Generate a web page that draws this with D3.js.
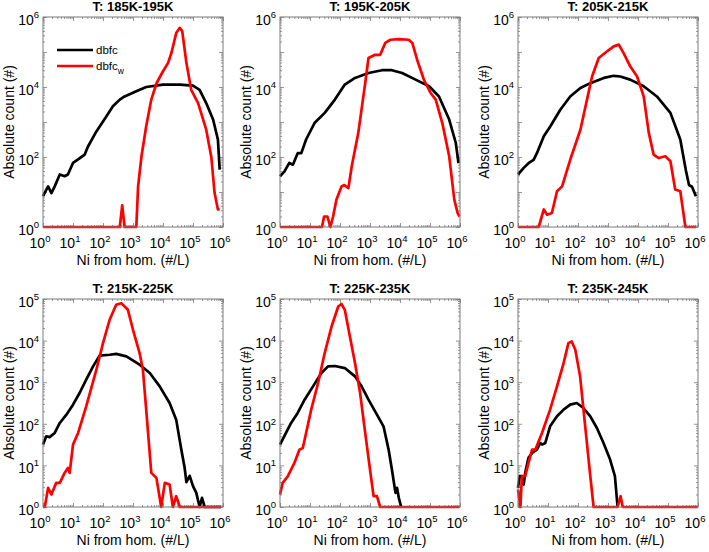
<!DOCTYPE html>
<html>
<head>
<meta charset="utf-8">
<script src="https://cdn.jsdelivr.net/npm/d3@7"></script>
<style>
  html, body { margin: 0; padding: 0; background: #fff; }
  svg { display: block; font-family: "Liberation Sans", Arial, Helvetica, sans-serif; }
</style>
</head>
<body>
<svg id="chart" width="709" height="552"></svg>
<script>
// ---- Data (values stored as log10 exponents: Ni = 10^x, count = 10^y) ----
const titles = ["T: 185K-195K", "T: 195K-205K", "T: 205K-215K",
                "T: 215K-225K", "T: 225K-235K", "T: 235K-245K"];
const yMaxExp = [6, 6, 6, 5, 5, 5];
const seriesNames = ["dbfc", "dbfc_w"];

const p1BlackX = [0,0.17,0.28,0.39,0.56,0.72,0.83,1.0,1.17,1.39,1.5,1.78,2.11,2.33,2.56,2.72,3.11,3.44,4.0,4.56,5.0,5.22,5.44,5.67,5.83,5.89];
const p1BlackY = [0.88,1.16,0.97,1.16,1.5,1.45,1.5,1.83,1.93,2.07,2.3,2.73,3.16,3.45,3.64,3.73,3.88,4.0,4.07,4.07,4.04,3.92,3.54,3.07,2.5,1.64];
const p1RedX = [0,2.56,2.64,2.72,3.11,3.17,3.28,3.44,3.61,3.78,4.0,4.17,4.28,4.44,4.56,4.64,4.78,4.94,5.17,5.44,5.61,5.72,5.83,5.89];
const p1RedY = [0,0,0.62,0,0,1.16,2.0,2.88,3.64,4.1,4.45,4.69,4.97,5.54,5.69,5.6,4.69,3.92,3.54,2.78,2.0,0.97,0.5,0.5];

const p2BlackX = [0,0.15,0.31,0.43,0.59,0.71,0.87,1.15,1.49,1.83,2.16,2.5,2.95,3.4,3.73,4.07,4.52,4.97,5.3,5.64,5.86,5.95];
const p2BlackY = [1.45,1.59,1.83,1.78,2.11,2.11,2.5,2.97,3.26,3.64,4.07,4.26,4.4,4.48,4.48,4.4,4.21,4.02,3.73,3.07,2.4,1.83];
const p2RedX = [0,1.4,1.47,1.58,1.68,1.77,1.88,2.05,2.14,2.28,2.39,2.61,2.84,2.95,3.17,3.34,3.51,3.68,3.96,4.29,4.41,4.57,4.8,5.02,5.19,5.41,5.64,5.81,5.92,5.98];
const p2RedY = [0,0,0.3,0.3,0,0.3,0.78,1.16,1.2,1.11,1.73,2.69,4.11,4.83,4.92,4.92,5.26,5.35,5.37,5.35,5.26,4.78,4.2,3.83,3.64,2.97,2.02,0.78,0.4,0.3];

const p3BlackX = [0,0.19,0.36,0.52,0.63,0.86,1.08,1.41,1.74,2.08,2.41,2.86,3.19,3.41,3.74,4.19,4.63,5.08,5.41,5.6,5.7,5.8,5.93];
const p3BlackY = [1.5,1.69,1.83,1.92,2.11,2.59,2.88,3.35,3.73,3.97,4.11,4.26,4.32,4.3,4.21,4.02,3.73,3.26,2.5,1.6,1.2,1.15,0.88];
const p3RedX = [0,0.69,0.86,0.97,1.13,1.3,1.47,1.74,2.08,2.3,2.47,2.69,2.97,3.19,3.36,3.52,3.74,3.97,4.19,4.36,4.52,4.69,4.91,5.08,5.24,5.41,5.58,5.93];
const p3RedY = [0,0,0.5,0.35,0.4,1.02,1.16,1.92,2.78,3.64,4.3,4.83,5.02,5.16,5.21,4.97,4.59,4.3,3.73,2.69,2.07,1.97,2.02,1.88,1.07,1.02,0,0];

const p4BlackX = [0,0.11,0.22,0.39,0.56,0.78,1.0,1.22,1.44,1.67,1.89,2.22,2.44,2.78,3.22,3.56,3.89,4.22,4.44,4.61,4.72,4.78,4.89,5.0,5.11,5.22,5.3,5.39,5.93];
const p4BlackY = [1.5,1.7,1.68,1.78,2.02,2.22,2.46,2.74,3.06,3.38,3.64,3.66,3.68,3.62,3.42,3.22,2.9,2.5,2.1,1.38,0.95,0.6,0.75,0.5,0.34,0,0.22,0,0];
const p4RedX = [0,0.06,0.17,0.28,0.44,0.56,0.72,0.83,0.89,1.0,1.17,1.44,1.78,2.0,2.22,2.44,2.61,2.83,3.0,3.22,3.33,3.44,3.61,3.78,3.94,4.06,4.22,4.33,4.44,4.56,5.93];
const p4RedY = [0,0,0.46,0.3,0.58,0.58,0.82,0.94,0.82,1.5,1.78,2.42,3.3,3.94,4.5,4.86,4.9,4.74,4.26,3.7,3.3,2.34,0.82,0.7,0,0.58,0.54,0,0.26,0,0];

const p5BlackX = [0,0.2,0.37,0.59,0.82,1.1,1.38,1.6,1.83,2.16,2.5,2.72,2.95,3.17,3.45,3.62,3.73,3.85,3.9,3.96,4.04];
const p5BlackY = [1.5,1.78,2.02,2.26,2.58,2.9,3.22,3.38,3.39,3.34,3.14,2.9,2.58,2.3,1.94,1.38,0.9,0.34,0.46,0.22,0];
const p5RedX = [0,0.09,0.26,0.37,0.48,0.65,0.76,0.87,1.04,1.27,1.49,1.72,1.94,2.05,2.16,2.33,2.5,2.67,2.84,3.0,3.12,3.23,3.34,5.98];
const p5RedY = [0.3,0.58,0.74,0.9,1.06,1.38,1.42,1.78,2.34,2.98,3.7,4.34,4.82,4.88,4.74,4.1,3.46,2.74,1.78,0.9,0.26,0.26,0,0];

const p6BlackX = [0,0.06,0.13,0.19,0.24,0.35,0.47,0.63,0.74,0.8,0.91,1.07,1.3,1.52,1.74,1.96,2.18,2.41,2.63,2.85,3.07,3.23,3.32];
const p6BlackY = [0.46,0.74,0.74,0.54,0.82,1.18,1.3,1.38,1.54,1.5,1.54,1.94,2.18,2.34,2.46,2.5,2.38,2.18,1.9,1.54,1.14,0.74,0];
const p6RedX = [0,0.08,0.13,0.24,0.35,0.47,0.58,0.8,1.07,1.3,1.52,1.68,1.79,1.91,2.07,2.24,2.41,2.52,3.32,3.42,3.49,5.98];
const p6RedY = [0.42,0,0.74,0.74,1.06,1.38,1.38,1.78,2.34,2.9,3.46,3.94,3.98,3.78,3.14,1.94,0.74,0,0,0.26,0,0];

const xTickExp = [0,1,2,3,4,5,6];
const yLabelExpTop = [0,2,4,6];
const yLabelExpBottom = [0,1,2,3,4,5];

// ---- Layout ----
const colX = [43, 280, 518];
const rowY = [17, 299];
const rowH = [210, 208];
const panelW = 180;
const frameColor = "#7a7a7a";
const black = "#000000", red = "#ff0000";

const svg = d3.select("#chart");

const toPts = (xs, ys) => xs.map((e, i) => ({x: Math.pow(10, e), y: Math.pow(10, ys[i])}));
const blacks = [[p1BlackX,p1BlackY],[p2BlackX,p2BlackY],[p3BlackX,p3BlackY],[p4BlackX,p4BlackY],[p5BlackX,p5BlackY],[p6BlackX,p6BlackY]];
const reds = [[p1RedX,p1RedY],[p2RedX,p2RedY],[p3RedX,p3RedY],[p4RedX,p4RedY],[p5RedX,p5RedY],[p6RedX,p6RedY]];

function minorValues(minE, maxE) {
  const v = [];
  for (let e = minE; e < maxE; e++) for (let m = 2; m <= 9; m++) v.push(m * Math.pow(10, e));
  return v;
}
function majorValues(minE, maxE) {
  const v = [];
  for (let e = minE; e <= maxE; e++) v.push(Math.pow(10, e));
  return v;
}

titles.forEach((title, i) => {
  const row = Math.floor(i / 3), col = i % 3;
  const left = colX[col], top = rowY[row], h = rowH[row], w = panelW;
  const yMax = yMaxExp[i];
  const g = svg.append("g").attr("transform", `translate(${left},${top})`);

  const x = d3.scaleLog().domain([1, 1e6]).range([0, w]);
  const y = d3.scaleLog().domain([1, Math.pow(10, yMax)]).range([h, 0]);

  // ticks (inside, on all sides)
  const addAxis = (axisFn, scale, vals, size, transform) => {
    const a = g.append("g").attr("transform", transform)
      .call(axisFn(scale).tickValues(vals).tickSizeInner(-size).tickSizeOuter(0).tickFormat(""));
    a.select(".domain").remove();
    a.selectAll(".tick line").attr("stroke", frameColor).attr("stroke-width", 0.8);
  };
  const xMaj = majorValues(0, 6), xMin = minorValues(0, 6);
  const yMaj = majorValues(0, yMax), yMin = minorValues(0, yMax);
  addAxis(d3.axisBottom, x, xMaj, 4, `translate(0,${h})`);
  addAxis(d3.axisBottom, x, xMin, 2, `translate(0,${h})`);
  addAxis(d3.axisTop, x, xMaj, 4, `translate(0,0)`);
  addAxis(d3.axisTop, x, xMin, 2, `translate(0,0)`);
  addAxis(d3.axisLeft, y, yMaj, 4, `translate(0,0)`);
  addAxis(d3.axisLeft, y, yMin, 2, `translate(0,0)`);
  addAxis(d3.axisRight, y, yMaj, 4, `translate(${w},0)`);
  addAxis(d3.axisRight, y, yMin, 2, `translate(${w},0)`);

  // data lines
  const line = d3.line().x(d => x(d.x)).y(d => y(d.y));
  g.append("path").datum(toPts(blacks[i][0], blacks[i][1]))
    .attr("d", line).attr("fill", "none").attr("stroke", black)
    .attr("stroke-width", 2.7).attr("stroke-linejoin", "round");
  g.append("path").datum(toPts(reds[i][0], reds[i][1]))
    .attr("d", line).attr("fill", "none").attr("stroke", red)
    .attr("stroke-width", 2.7).attr("stroke-linejoin", "round");

  // frame
  g.append("rect").attr("x", 0).attr("y", 0).attr("width", w).attr("height", h)
    .attr("fill", "none").attr("stroke", frameColor).attr("stroke-width", 1);

  // x tick labels
  const xl = g.selectAll(".xlab").data(xTickExp).enter().append("text")
    .attr("x", d => x(Math.pow(10, d)) - 3).attr("y", h + 21)
    .attr("text-anchor", "middle").attr("font-size", 14).attr("fill", "#000");
  xl.append("tspan").text("10");
  xl.append("tspan").attr("dy", -6.5).attr("font-size", 9.5).text(d => d);

  // y tick labels
  const yLabs = row === 0 ? yLabelExpTop : yLabelExpBottom;
  const yl = g.selectAll(".ylab").data(yLabs).enter().append("text")
    .attr("x", -4).attr("y", d => y(Math.pow(10, d)) + 7.5)
    .attr("text-anchor", "end").attr("font-size", 14).attr("fill", "#000");
  yl.append("tspan").text("10");
  yl.append("tspan").attr("dy", -6.5).attr("font-size", 9.5).text(d => d);

  // title
  g.append("text").attr("x", w / 2).attr("y", -6).attr("text-anchor", "middle")
    .attr("font-size", 13).attr("font-weight", "bold").text(title);

  // axis labels
  g.append("text").attr("x", w / 2).attr("y", h + 38).attr("text-anchor", "middle")
    .attr("font-size", 14).text("Ni from hom. (#/L)");
  g.append("text").attr("transform", `translate(-29,${h / 2}) rotate(-90)`)
    .attr("text-anchor", "middle").attr("font-size", 14).text("Absolute count (#)");

  // legend in the first panel
  if (i === 0) {
    const leg = g.append("g").attr("transform", "translate(14,33)");
    [black, red].forEach((c, k) => {
      leg.append("line").attr("x1", 0).attr("x2", 36).attr("y1", k * 16).attr("y2", k * 16)
        .attr("stroke", c).attr("stroke-width", 2.7);
      const t = leg.append("text").attr("x", 39).attr("y", k * 16 + 4).attr("font-size", 11.5);
      if (k === 0) {
        t.text(seriesNames[0]);
      } else {
        const parts = seriesNames[1].split("_");
        t.append("tspan").text(parts[0]);
        t.append("tspan").attr("dy", 4).attr("font-size", 8.5).text(parts[1]);
      }
    });
  }
});
</script>
</body>
</html>
